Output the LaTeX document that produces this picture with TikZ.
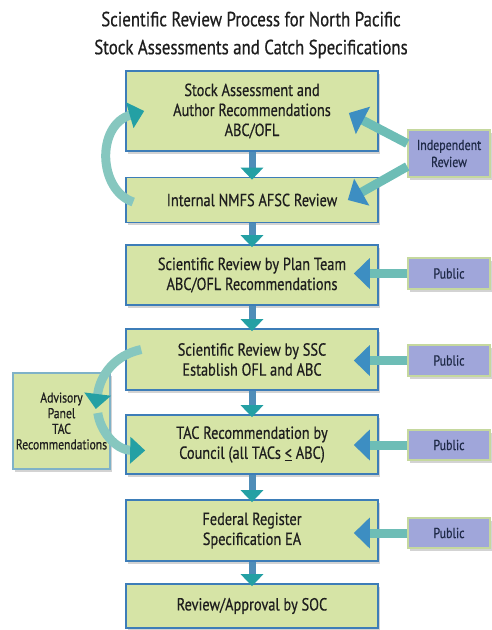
\documentclass[tikz,border=0pt]{standalone}
\usepackage{fontspec}
\setmainfont{PT Sans}[FakeStretch=0.82, FakeBold=0.6]
\usetikzlibrary{arrows.meta,shadows,calc}
\definecolor{boxfill}{HTML}{D6E4A6}
\definecolor{boxline}{HTML}{3D7DB8}
\definecolor{sidefill}{HTML}{A0A6DA}
\definecolor{sideline}{HTML}{C5D89E}
\definecolor{advline}{HTML}{7FB2C8}
\definecolor{sidetext}{HTML}{1F2A48}
\definecolor{maintext}{HTML}{1E1E1E}
\definecolor{shaftblue}{HTML}{4F8DB8}
\definecolor{headteal}{HTML}{24A0A4}
\definecolor{shaftteal}{HTML}{6DBDB6}
\definecolor{headblue}{HTML}{3D8EC2}
\definecolor{curveteal}{HTML}{86C7BF}
\tikzset{
  mainbox/.style={draw=boxline, line width=1.6pt, fill=boxfill, minimum width=252pt,
    align=center, text=maintext, font=\fontsize{17.5}{20}\selectfont, inner sep=0pt,
    drop shadow={opacity=0.35, shadow xshift=2pt, shadow yshift=-2.5pt}},
  sidebox/.style={draw=sideline, line width=1.6pt, fill=sidefill, minimum width=82pt,
    align=center, text=sidetext, font=\fontsize{14.5}{17}\selectfont, inner sep=0pt,
    drop shadow={opacity=0.35, shadow xshift=2pt, shadow yshift=-2.5pt}},
  advbox/.style={draw=advline, line width=1.6pt, fill=boxfill, minimum width=97pt,
    minimum height=96pt, align=center, text=maintext, font=\fontsize{14.2}{15.6}\selectfont, inner sep=0pt,
    drop shadow={opacity=0.35, shadow xshift=2pt, shadow yshift=-2.5pt}},
  downarrow/.style={draw=shaftblue, line width=7pt,
    -{Triangle[color=headteal, length=12pt, width=22pt]}, shorten >=-3pt},
  leftarrow/.style={draw=shaftteal, line width=9pt,
    -{Triangle[color=headblue, length=16pt, width=30pt]}},
  curvearrow/.style={draw=curveteal, line width=9pt,
    -{Triangle[color=headteal, length=15pt, width=26pt]}},
}
\begin{document}
\begin{tikzpicture}[x=1pt,y=-1pt]
\useasboundingbox (0,0) rectangle (492,630);
\node[align=center, font=\fontsize{20.5}{28}\selectfont, text=maintext] (title) at (251,35)
  {Scientific Review Process for North Pacific\\Stock Assessments and Catch Specifications};

\node[mainbox, minimum height=80pt] (b1) at (252,111) {Stock Assessment and\\Author Recommendations\\ABC/OFL};
\node[mainbox, minimum height=45pt] (b2) at (252,200) {Internal NMFS AFSC Review};
\node[mainbox, minimum height=60pt] (b3) at (252,275) {Scientific Review by Plan Team\\ABC/OFL Recommendations};
\node[mainbox, minimum height=61pt] (b4) at (252,359.5) {Scientific Review by SSC\\Establish OFL and ABC};
\node[mainbox, minimum height=59pt] (b5) at (252,444.5) {TAC Recommendation by\\Council (all TACs \underline{<} ABC)};
\node[mainbox, minimum height=61pt] (b6) at (252,530.5) {Federal Register\\Specification EA};
\node[mainbox, minimum height=44pt] (b7) at (252,606) {Review/Approval by SOC};

\node[sidebox, minimum height=47pt] (ir) at (449,153.5) {Independent\\Review};
\node[sidebox, minimum height=31pt] (p1) at (449,273.5) {Public};
\node[sidebox, minimum height=31pt] (p2) at (449,360.5) {Public};
\node[sidebox, minimum height=30pt] (p3) at (449,445) {Public};
\node[sidebox, minimum height=30pt] (p4) at (449,533) {Public};

\node[advbox] (adv) at (61.5,421) {Advisory\\Panel\\TAC\\Recommendations};

% down arrows
\draw[downarrow] (b1.south) -- (b2.north);
\draw[downarrow] (b2.south) -- (b3.north);
\draw[downarrow] (b3.south) -- (b4.north);
\draw[downarrow] (b4.south) -- (b5.north);
\draw[downarrow] (b5.south) -- (b6.north);
\draw[downarrow] (b6.south) -- (b7.north);

% public arrows
\draw[leftarrow, shorten >=-25pt] (p1.west) -- (b3.east |- p1.west);
\draw[leftarrow, shorten >=-25pt] (p2.west) -- (b4.east |- p2.west);
\draw[leftarrow, shorten >=-25pt] (p3.west) -- (b5.east |- p3.west);
\draw[leftarrow, shorten >=-25pt] (p4.west) -- (b6.east |- p4.west);

% independent review arrows
\coordinate (ira) at ($(ir.west)+(0,-10)$);
\coordinate (irb) at ($(ir.west)+(0,13)$);
\coordinate (t1) at ($(b1.east)+(-30,2)$);
\coordinate (t2) at ($(b2.east)+(-31,0)$);
\draw[leftarrow] (ira) -- (t1);
\draw[leftarrow] (irb) -- (t2);

% loop between b2 and b1
\coordinate (c1s) at ($(b2.west)+(8,2)$);
\coordinate (c1e) at ($(b1.west)+(19,0)$);
\draw[curvearrow] (c1s) .. controls (98,190) and (96,125) .. (c1e);

% SSC -> advisory -> council
\coordinate (c2s) at ($(b4.west)+(16,-10)$);
\coordinate (c2e) at ($(adv.east)+(-15,-12)$);
\draw[curvearrow] (c2s) .. controls (115,355) and (100,375) .. (c2e);
\coordinate (c3s) at ($(adv.east)+(-13,-8)$);
\coordinate (c3e) at ($(b5.west)+(20,6)$);
\draw[curvearrow] (c3s) .. controls (100,430) and (115,450) .. (c3e);
\end{tikzpicture}
\end{document}
